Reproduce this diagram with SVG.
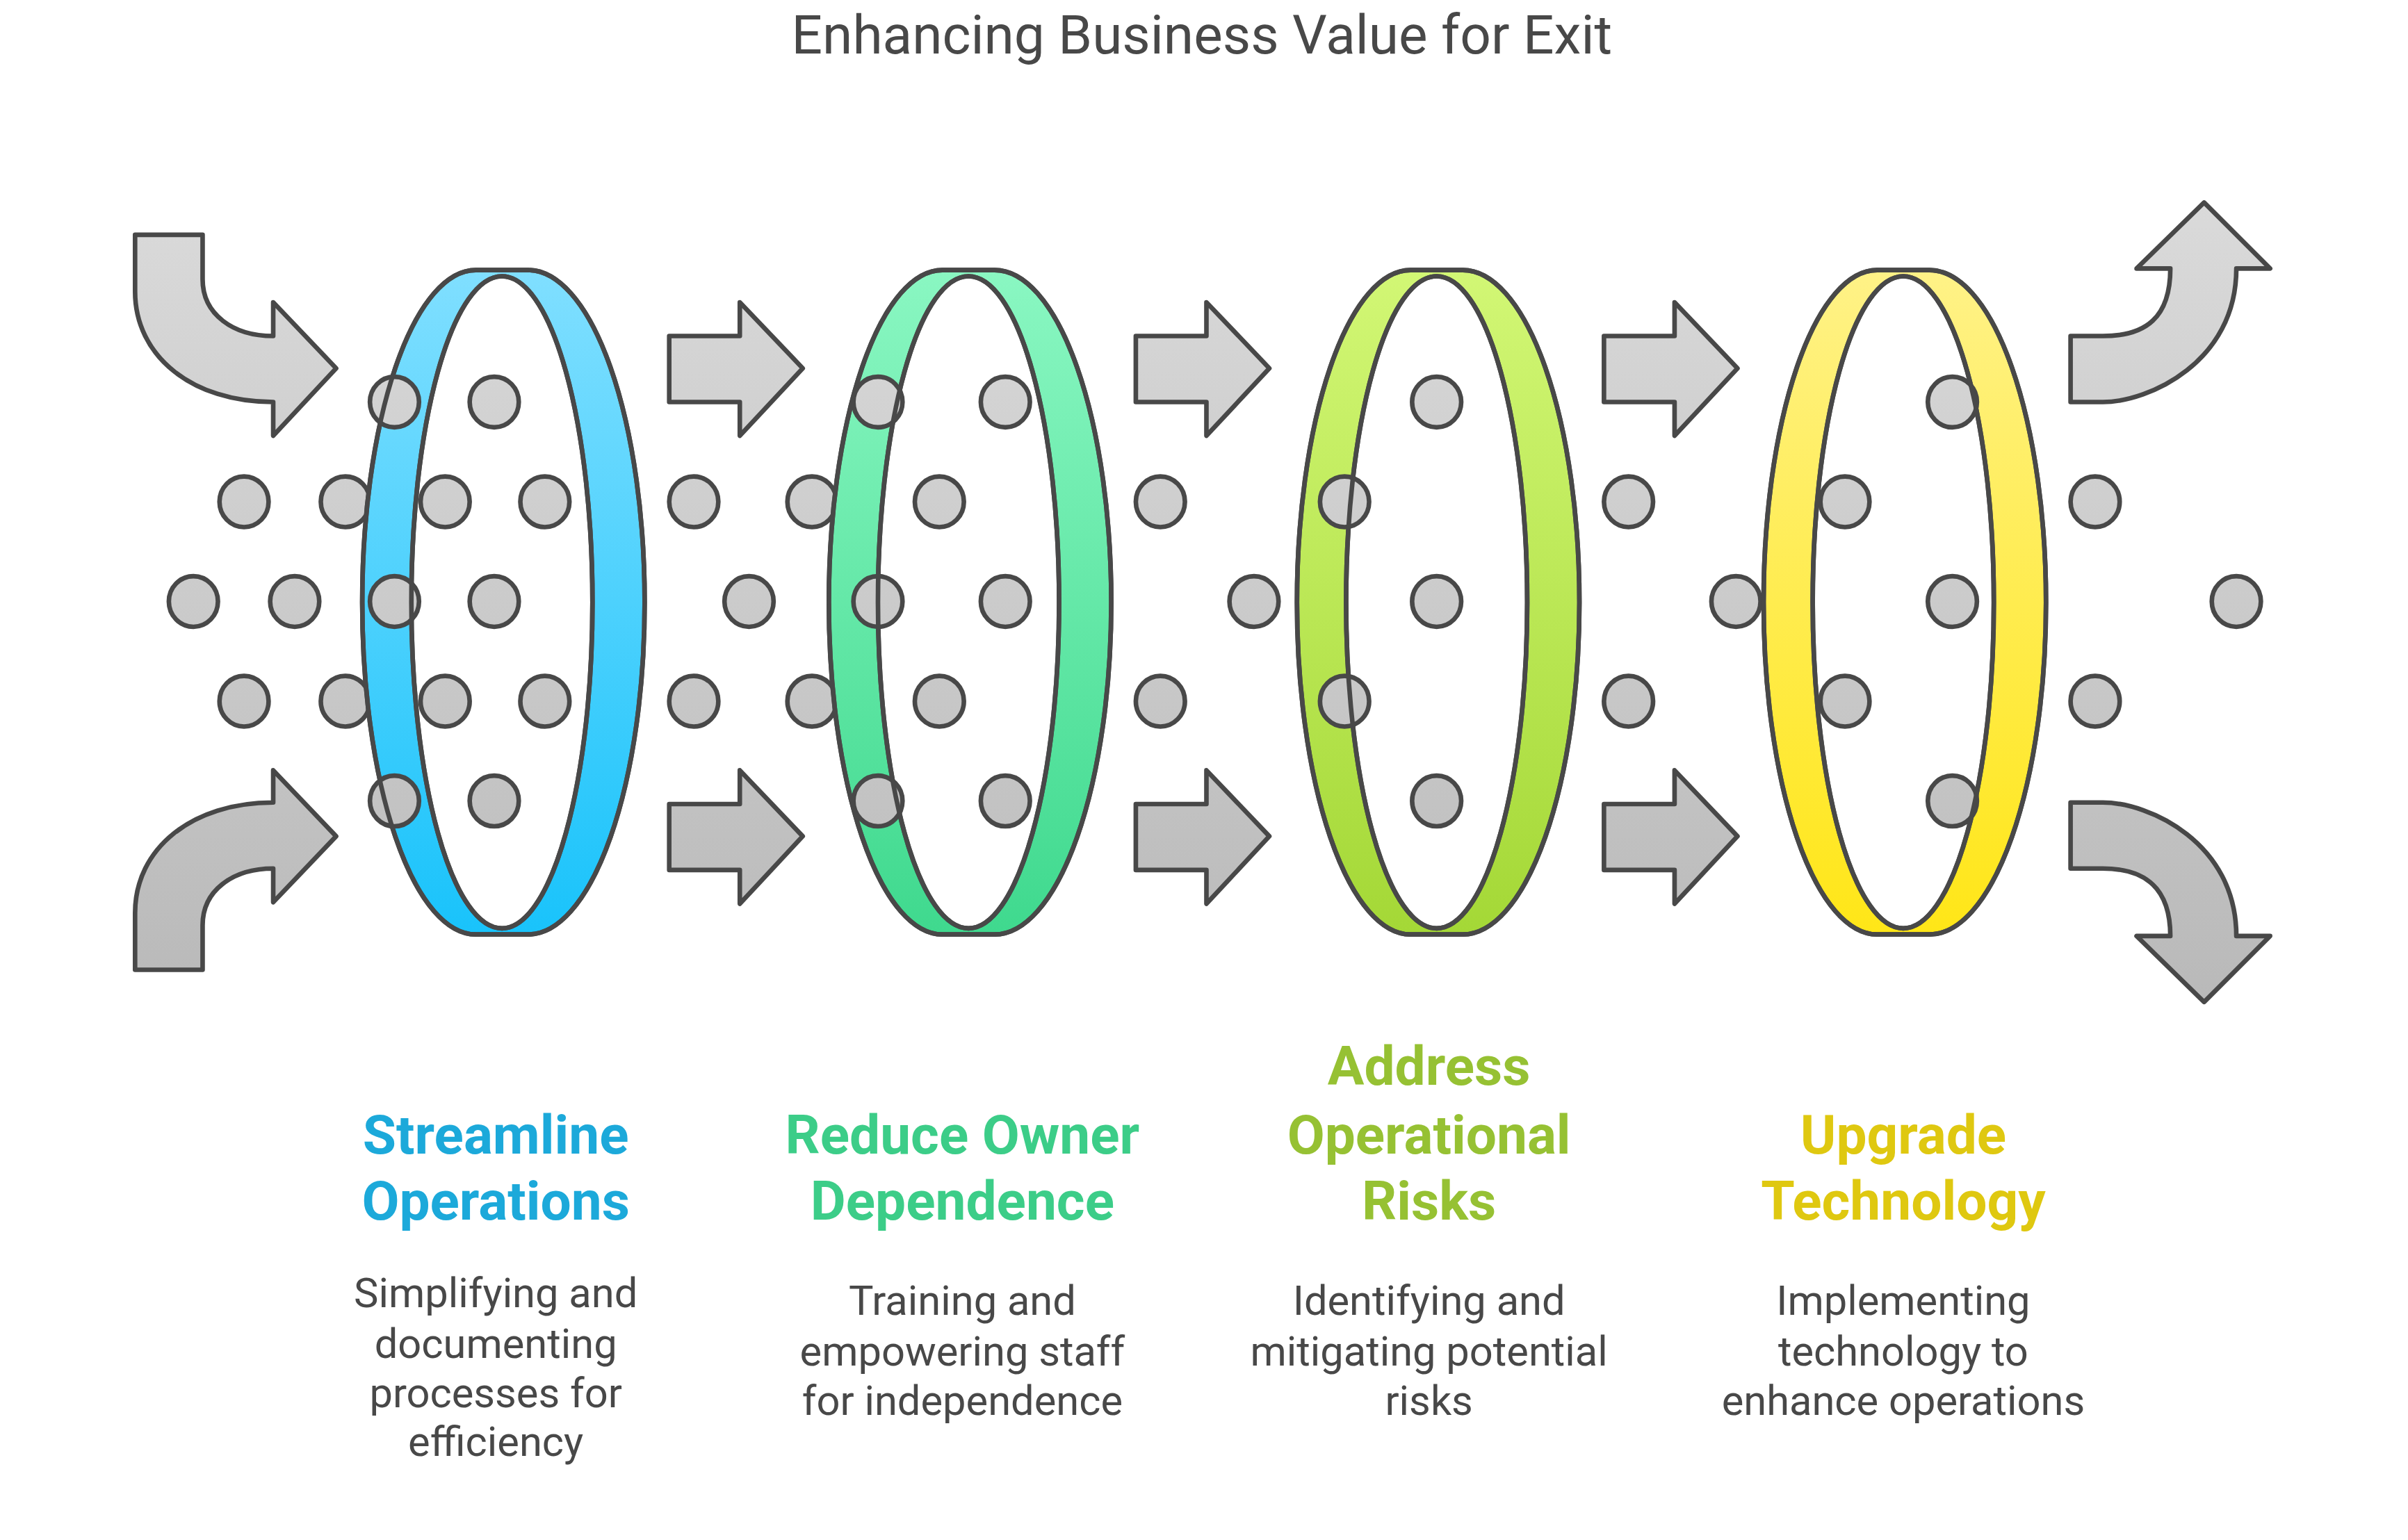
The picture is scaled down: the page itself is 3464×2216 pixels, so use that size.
<svg xmlns="http://www.w3.org/2000/svg" width="3464" height="2216" viewBox="0 0 3464 2216">
<defs>
<linearGradient id="ga" gradientUnits="userSpaceOnUse" x1="0" y1="130" x2="0" y2="655"><stop offset="0" stop-color="#dadada"/><stop offset="1" stop-color="#b9b9b9"/></linearGradient>
<linearGradient id="gd" gradientUnits="userSpaceOnUse" x1="0" y1="240" x2="0" y2="540"><stop offset="0" stop-color="#d4d4d4"/><stop offset="1" stop-color="#c2c2c2"/></linearGradient>
<linearGradient id="g1" x1="0" y1="0" x2="0" y2="1"><stop offset="0" stop-color="#80dfff"/><stop offset="1" stop-color="#19c3fb"/></linearGradient>
<linearGradient id="g2" x1="0" y1="0" x2="0" y2="1"><stop offset="0" stop-color="#8af7c2"/><stop offset="1" stop-color="#3fd98e"/></linearGradient>
<linearGradient id="g3" x1="0" y1="0" x2="0" y2="1"><stop offset="0" stop-color="#d2f775"/><stop offset="1" stop-color="#a4d836"/></linearGradient>
<linearGradient id="g4" x1="0" y1="0" x2="0" y2="1"><stop offset="0" stop-color="#fff287"/><stop offset="1" stop-color="#ffe617"/></linearGradient>
<path id="ring" d="M-17,176 H17 A76,216.5 0 0 1 17,609 H-17 A74,216.5 0 0 1 -17,176 Z"/>
<path id="ringin" d="M0,180 A59,212.5 0 0 1 0,605 A59,212.5 0 0 1 0,180 Z"/>
</defs>
<style>
.arr{fill:url(#ga);stroke:#484848;stroke-width:3;stroke-linejoin:round}
.dot{fill:url(#gd);stroke:#484848;stroke-width:3}
.rs{fill:none;stroke:#484848;stroke-width:3}
.hole{fill:#fff;stroke:#484848;stroke-width:3}
.t{font-family:Roboto,"Liberation Sans",sans-serif;font-weight:bold;font-size:35.5px;text-anchor:middle}
.d{font-family:Roboto,"Liberation Sans",sans-serif;font-size:27px;fill:#484848;text-anchor:middle}
</style>
<g transform="scale(2.208)">
<text x="783" y="35" style="font-family:Roboto,'Liberation Sans',sans-serif;font-size:35.5px;fill:#484848;text-anchor:middle">Enhancing Business Value for Exit</text>
<g id="connectors">
<path class="arr" d="M88,153 H132 V182 C132,205 152,219 178,219 V197 L219,240 L178,284 V262 C125,262 88,232 88,190 Z"/>
<path class="arr" d="M88,632 V595 C88,553 125,523 178,523 V502 L219,545 L178,588 V566 C152,566 132,580 132,603 V632 Z"/>
<path class="arr" d="M436,219 H482 V197 L523,240 L482,284 V262 H436 Z"/>
<path class="arr" d="M436,524 H482 V502 L523,545 L482,589 V567 H436 Z"/>
<path class="arr" d="M740,219 H786 V197 L827,240 L786,284 V262 H740 Z"/>
<path class="arr" d="M740,524 H786 V502 L827,545 L786,589 V567 H740 Z"/>
<path class="arr" d="M1045,219 H1091 V197 L1132,240 L1091,284 V262 H1045 Z"/>
<path class="arr" d="M1045,524 H1091 V502 L1132,545 L1091,589 V567 H1045 Z"/>
<path class="arr" d="M1349,219 H1370 C1398,219 1414,207 1414,175 H1392 L1436,132 L1479,175 H1457 C1457,236 1400,262 1370,262 H1349 Z"/>
<path class="arr" d="M1349,523 H1370 C1400,523 1457,549 1457,610 H1479 L1436,653 L1392,610 H1414 C1414,579 1398,566 1370,566 H1349 Z"/>
</g>
<g id="dots-back">
<ellipse class="dot" cx="126" cy="392" rx="16" ry="16.5"/>
<ellipse class="dot" cx="159" cy="327" rx="16" ry="16.5"/><ellipse class="dot" cx="159" cy="457" rx="16" ry="16.5"/>
<ellipse class="dot" cx="192" cy="392" rx="16" ry="16.5"/>
<ellipse class="dot" cx="225" cy="327" rx="16" ry="16.5"/><ellipse class="dot" cx="225" cy="457" rx="16" ry="16.5"/>
<ellipse class="dot" cx="381" cy="392" rx="16" ry="16.5"/>
<ellipse class="dot" cx="452" cy="327" rx="16" ry="16.5"/><ellipse class="dot" cx="452" cy="457" rx="16" ry="16.5"/>
<ellipse class="dot" cx="488" cy="392" rx="16" ry="16.5"/>
<ellipse class="dot" cx="529" cy="327" rx="16" ry="16.5"/><ellipse class="dot" cx="529" cy="457" rx="16" ry="16.5"/>
<ellipse class="dot" cx="692" cy="327" rx="16" ry="16.5"/><ellipse class="dot" cx="692" cy="457" rx="16" ry="16.5"/>
<ellipse class="dot" cx="756" cy="327" rx="16" ry="16.5"/><ellipse class="dot" cx="756" cy="457" rx="16" ry="16.5"/>
<ellipse class="dot" cx="817" cy="392" rx="16" ry="16.5"/>
<ellipse class="dot" cx="995" cy="327" rx="16" ry="16.5"/><ellipse class="dot" cx="995" cy="457" rx="16" ry="16.5"/>
<ellipse class="dot" cx="1061" cy="327" rx="16" ry="16.5"/><ellipse class="dot" cx="1061" cy="457" rx="16" ry="16.5"/>
<ellipse class="dot" cx="1131" cy="392" rx="16" ry="16.5"/>
<ellipse class="dot" cx="1365" cy="327" rx="16" ry="16.5"/><ellipse class="dot" cx="1365" cy="457" rx="16" ry="16.5"/>
<ellipse class="dot" cx="1457" cy="392" rx="16" ry="16.5"/>
</g>
<g id="ring1" transform="translate(327,0)"><use href="#ring" fill="url(#g1)" stroke="#484848" stroke-width="3"/><use href="#ringin" class="hole"/></g>
<g id="ring2" transform="translate(631,0)"><use href="#ring" fill="url(#g2)" stroke="#484848" stroke-width="3"/><use href="#ringin" class="hole"/></g>
<g id="ring3" transform="translate(936,0)"><use href="#ring" fill="url(#g3)" stroke="#484848" stroke-width="3"/><use href="#ringin" class="hole"/></g>
<g id="ring4" transform="translate(1240,0)"><use href="#ring" fill="url(#g4)" stroke="#484848" stroke-width="3"/><use href="#ringin" class="hole"/></g>
<g id="dots-front">
<ellipse class="dot" cx="257" cy="262" rx="16" ry="16.5"/><ellipse class="dot" cx="257" cy="392" rx="16" ry="16.5"/><ellipse class="dot" cx="257" cy="522" rx="16" ry="16.5"/>
<ellipse class="dot" cx="290" cy="327" rx="16" ry="16.5"/><ellipse class="dot" cx="290" cy="457" rx="16" ry="16.5"/>
<ellipse class="dot" cx="322" cy="262" rx="16" ry="16.5"/><ellipse class="dot" cx="322" cy="392" rx="16" ry="16.5"/><ellipse class="dot" cx="322" cy="522" rx="16" ry="16.5"/>
<ellipse class="dot" cx="355" cy="327" rx="16" ry="16.5"/><ellipse class="dot" cx="355" cy="457" rx="16" ry="16.5"/>
<ellipse class="dot" cx="572" cy="262" rx="16" ry="16.5"/><ellipse class="dot" cx="572" cy="392" rx="16" ry="16.5"/><ellipse class="dot" cx="572" cy="522" rx="16" ry="16.5"/>
<ellipse class="dot" cx="612" cy="327" rx="16" ry="16.5"/><ellipse class="dot" cx="612" cy="457" rx="16" ry="16.5"/>
<ellipse class="dot" cx="655" cy="262" rx="16" ry="16.5"/><ellipse class="dot" cx="655" cy="392" rx="16" ry="16.5"/><ellipse class="dot" cx="655" cy="522" rx="16" ry="16.5"/>
<ellipse class="dot" cx="876" cy="327" rx="16" ry="16.5"/><ellipse class="dot" cx="876" cy="457" rx="16" ry="16.5"/>
<ellipse class="dot" cx="936" cy="262" rx="16" ry="16.5"/><ellipse class="dot" cx="936" cy="392" rx="16" ry="16.5"/><ellipse class="dot" cx="936" cy="522" rx="16" ry="16.5"/>
<ellipse class="dot" cx="1202" cy="327" rx="16" ry="16.5"/><ellipse class="dot" cx="1202" cy="457" rx="16" ry="16.5"/>
<ellipse class="dot" cx="1272" cy="262" rx="16" ry="16.5"/><ellipse class="dot" cx="1272" cy="392" rx="16" ry="16.5"/><ellipse class="dot" cx="1272" cy="522" rx="16" ry="16.5"/>
</g>
<g id="ring-lines">
<use href="#ringin" class="rs" transform="translate(327,0)"/><use href="#ring" class="rs" transform="translate(327,0)"/>
<use href="#ringin" class="rs" transform="translate(631,0)"/><use href="#ring" class="rs" transform="translate(631,0)"/>
<use href="#ringin" class="rs" transform="translate(936,0)"/><use href="#ring" class="rs" transform="translate(936,0)"/>
<use href="#ringin" class="rs" transform="translate(1240,0)"/><use href="#ring" class="rs" transform="translate(1240,0)"/>
</g>
<g id="label1">
<text class="t" fill="#1ca9da" x="323" y="752">Streamline</text><text class="t" fill="#1ca9da" x="323" y="795">Operations</text>
<text class="d" x="323" y="852">Simplifying and</text><text class="d" x="323" y="885">documenting</text><text class="d" x="323" y="917">processes for</text><text class="d" x="323" y="949">efficiency</text>
</g>
<g id="label2">
<text class="t" fill="#3ccd88" x="627" y="752">Reduce Owner</text><text class="t" fill="#3ccd88" x="627" y="795">Dependence</text>
<text class="d" x="627" y="857">Training and</text><text class="d" x="627" y="890">empowering staff</text><text class="d" x="627" y="922">for independence</text>
</g>
<g id="label3">
<text class="t" fill="#96c133" x="931" y="707">Address</text><text class="t" fill="#96c133" x="931" y="752">Operational</text><text class="t" fill="#96c133" x="931" y="795">Risks</text>
<text class="d" x="931" y="857">Identifying and</text><text class="d" x="931" y="890">mitigating potential</text><text class="d" x="931" y="922">risks</text>
</g>
<g id="label4">
<text class="t" fill="#dfc810" x="1240" y="752">Upgrade</text><text class="t" fill="#dfc810" x="1240" y="795">Technology</text>
<text class="d" x="1240" y="857">Implementing</text><text class="d" x="1240" y="890">technology to</text><text class="d" x="1240" y="922">enhance operations</text>
</g>
</g>
</svg>
